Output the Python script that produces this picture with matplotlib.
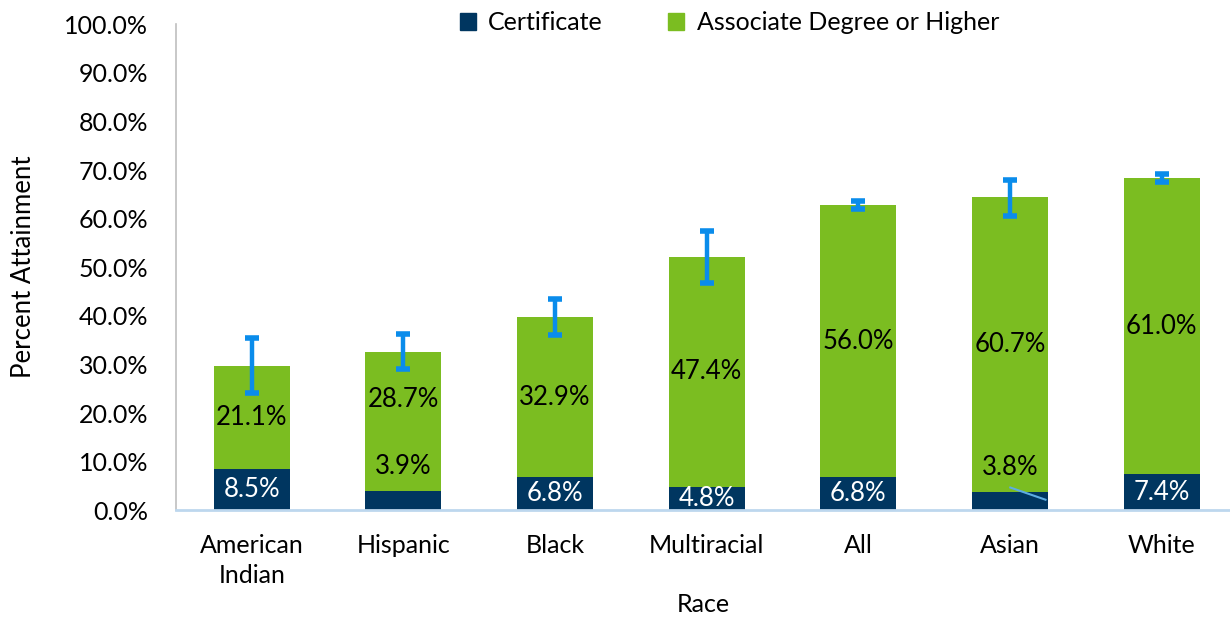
import matplotlib
matplotlib.use("Agg")
import matplotlib.pyplot as plt
from matplotlib.patches import Patch
import numpy as np

categories = ["American\nIndian", "Hispanic", "Black", "Multiracial", "All", "Asian", "White"]
certificate = [8.5, 3.9, 6.8, 4.8, 6.8, 3.8, 7.4]
associate = [21.1, 28.7, 32.9, 47.4, 56.0, 60.7, 61.0]
err_low = [5.5, 3.6, 3.7, 5.5, 0.8, 4.0, 0.8]
err_high = [5.8, 3.6, 3.7, 5.2, 0.8, 3.4, 0.8]
yticks = [0, 10, 20, 30, 40, 50, 60, 70, 80, 90, 100]

NAVY = "#003660"
GREEN = "#7BBD21"
ERR = "#0A8CEB"

plt.rcParams['font.family'] = ['Lato', 'DejaVu Sans']

fig = plt.figure(figsize=(12.3, 6.2), dpi=100)
ax = fig.add_axes([0.143, 0.177, 0.857, 0.784])

x = np.arange(len(categories))
cert = np.array(certificate)
assoc = np.array(associate)
total = cert + assoc
w = 0.5

ax.bar(x, cert, w, color=NAVY, zorder=2)
ax.bar(x, assoc, w, bottom=cert, color=GREEN, zorder=2)
ax.errorbar(x, total, yerr=[err_low, err_high], fmt="none", ecolor=ERR,
            elinewidth=3.2, capsize=5, capthick=4, zorder=3)

fs = 18.5
for i in range(len(x)):
    if categories[i] in ("Hispanic", "Asian"):
        ax.text(x[i], cert[i] + 5.0, f"{cert[i]:.1f}%", ha="center", va="center",
                color="black", fontsize=fs, zorder=4)
    else:
        ax.text(x[i], cert[i] / 2, f"{cert[i]:.1f}%", ha="center", va="center",
                color="white", fontsize=fs, zorder=4)
    ymid = cert[i] + assoc[i] / 2
    if categories[i] == "Hispanic":
        ymid = cert[i] + 18.9
    ax.text(x[i], ymid, f"{assoc[i]:.1f}%", ha="center", va="center",
            color="black", fontsize=fs, zorder=4)

ia = categories.index("Asian")
ax.plot([x[ia] - 0.005, x[ia] + 0.24], [cert[ia] + 0.95, cert[ia] - 1.7],
        color="#5DADE2", lw=1.5, zorder=4, solid_capstyle="butt")

ax.set_xlim(-0.5, 6.45)
ax.set_ylim(0, 100)
ax.set_yticks(yticks)
ax.set_yticklabels([f"{v:.1f}%" for v in yticks], fontsize=18)
ax.set_xticks(x)
ax.set_xticklabels(categories, fontsize=18, linespacing=1.4)
ax.tick_params(axis="x", length=0, pad=17)
ax.tick_params(axis="y", length=0, pad=20)

ax.spines["top"].set_visible(False)
ax.spines["right"].set_visible(False)
ax.spines["left"].set_color("#BFBFBF")
ax.spines["left"].set_linewidth(1.2)
ax.spines["bottom"].set_color("#BDD7EE")
ax.spines["bottom"].set_linewidth(2)

ax.set_ylabel("Percent Attainment", fontsize=18.5, labelpad=20)
ax.set_xlabel("Race", fontsize=18, labelpad=4)

handles = [Patch(color=NAVY, label="Certificate"),
           Patch(color=GREEN, label="Associate Degree or Higher")]
fig.legend(handles=handles, loc="center", bbox_to_anchor=(0.593, 0.963), ncol=2,
           frameon=False, fontsize=18, handlelength=0.65, handleheight=0.65,
           handletextpad=0.5, columnspacing=2.6)

fig.savefig("out.png", dpi=100)
